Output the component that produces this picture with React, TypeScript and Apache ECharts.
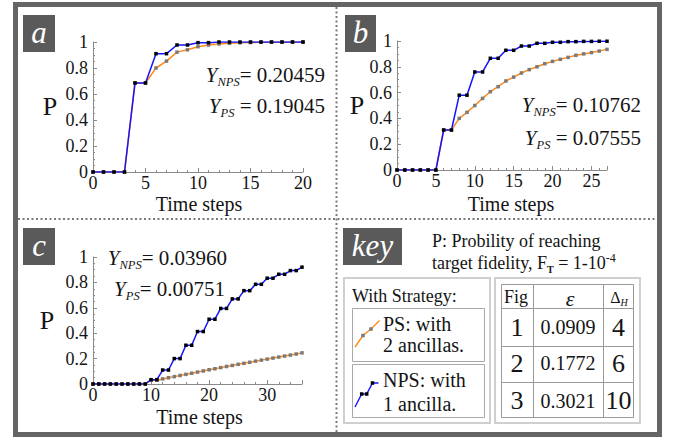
import React, { useEffect, useRef } from "react";
import * as echarts from "echarts";

// ---- data (index = time step) ----
const npsA = [0, 0, 0, 0, 0.685, 0.685, 0.91, 0.91, 0.977, 0.977, 0.995, 0.995, 1, 1, 1, 1, 1, 1, 1, 1, 1];
const psA = [0, 0, 0, 0, 0.685, 0.685, 0.8, 0.853, 0.922, 0.94, 0.964, 0.977, 0.985, 0.99, 0.994, 0.996, 0.998, 0.999, 0.999, 1, 1];

const npsB = [0, 0, 0, 0, 0, 0, 0.31, 0.31, 0.58, 0.58, 0.76, 0.76, 0.866, 0.866, 0.928, 0.928, 0.961, 0.961, 0.982, 0.982, 0.99, 0.99, 0.995, 0.995, 0.997, 0.997, 0.998, 0.998];
const psB = [0, 0, 0, 0, 0, 0, 0.31, 0.31, 0.4, 0.447, 0.5, 0.555, 0.607, 0.646, 0.69, 0.72, 0.752, 0.778, 0.8, 0.824, 0.842, 0.858, 0.873, 0.889, 0.9, 0.91, 0.922, 0.935];

const npsC = [0, 0, 0, 0, 0, 0, 0, 0, 0, 0, 0.034, 0.034, 0.11, 0.11, 0.2, 0.2, 0.305, 0.305, 0.413, 0.413, 0.51, 0.51, 0.595, 0.595, 0.67, 0.67, 0.735, 0.735, 0.785, 0.785, 0.833, 0.833, 0.864, 0.864, 0.893, 0.893, 0.92];
const psC = [0, 0, 0, 0, 0, 0, 0, 0, 0, 0, 0.03, 0.03, 0.04, 0.049, 0.058, 0.067, 0.076, 0.085, 0.094, 0.103, 0.112, 0.12, 0.129, 0.138, 0.146, 0.155, 0.163, 0.171, 0.18, 0.188, 0.196, 0.204, 0.212, 0.22, 0.228, 0.236, 0.245];

const xMax = [20, 27, 36];
const xInterval = [5, 5, 10];
const yTicks = ["0", "0.2", "0.4", "0.6", "0.8", "1"];

const annotA = ["0.20459", "0.19045"];
const annotB = ["0.10762", "0.07555"];
const annotC = ["0.03960", "0.00751"];

const tableFig = ["1", "2", "3"];
const tableEps = ["0.0909", "0.1772", "0.3021"];
const tableDelta = ["4", "6", "10"];

const SERIF = "Liberation Serif, DejaVu Serif, serif";
const ORANGE = "#ff8a1a";
const BLUE = "#1414ff";
const AXIS = "#8a8a8a";
const INK = "#141414";

const toPts = (arr: number[]) => arr.map((v, i) => [i, v]);

export default function App() {
  const ref = useRef<HTMLDivElement>(null);

  useEffect(() => {
    if (!ref.current) return;
    const chart = echarts.init(ref.current, undefined, { renderer: "svg" });

    const grids = [
      { left: 93, top: 42, width: 210, height: 130 },
      { left: 397, top: 41, width: 210, height: 129 },
      { left: 93, top: 257, width: 209, height: 127 },
    ];

    const xAxes = grids.map((_, i) => ({
      type: "value",
      gridIndex: i,
      min: 0,
      max: xMax[i],
      interval: xInterval[i],
      axisLine: { show: true, onZero: false, lineStyle: { color: AXIS, width: 1 } },
      axisTick: { show: true, inside: true, length: 4, lineStyle: { color: AXIS } },
      minorTick: { show: true, splitNumber: 5, length: 2, lineStyle: { color: AXIS } },
      splitLine: { show: false },
      axisLabel: {
        color: INK,
        fontFamily: SERIF,
        fontSize: 18,
        margin: 2,
        formatter: (v: number) => (v % xInterval[i] === 0 ? String(v) : ""),
      },
    }));

    const yAxes = grids.map((_, i) => ({
      type: "value",
      gridIndex: i,
      min: 0,
      max: 1,
      interval: 0.2,
      axisLine: { show: true, onZero: false, lineStyle: { color: AXIS, width: 1 } },
      axisTick: { show: true, inside: true, length: 4, lineStyle: { color: AXIS } },
      minorTick: { show: true, splitNumber: 4, length: 2, lineStyle: { color: AXIS } },
      splitLine: { show: false },
      axisLabel: {
        color: INK,
        fontFamily: SERIF,
        fontSize: 18,
        margin: 5,
        formatter: (v: number) => yTicks[Math.round(v * 5)] ?? "",
      },
    }));

    const sets = [
      [psA, npsA],
      [psB, npsB],
      [psC, npsC],
    ];
    const series: any[] = [];
    sets.forEach(([ps, nps], i) => {
      series.push({
        type: "line",
        xAxisIndex: i,
        yAxisIndex: i,
        data: toPts(ps),
        symbol: "rect",
        symbolSize: 3.5,
        showSymbol: true,
        lineStyle: { color: ORANGE, width: 1.5 },
        itemStyle: { color: "#7a7a7a" },
        z: 2,
        silent: true,
      });
      series.push({
        type: "line",
        xAxisIndex: i,
        yAxisIndex: i,
        data: toPts(nps),
        symbol: "rect",
        symbolSize: 3.5,
        showSymbol: true,
        lineStyle: { color: BLUE, width: 1.5 },
        itemStyle: { color: "#000000" },
        z: 3,
        silent: true,
      });
    });

    const txt = (x: number, y: number, text: string, size: number, opts: any = {}) => ({
      type: "text",
      x,
      y,
      z: 20,
      silent: true,
      style: {
        text,
        fontFamily: SERIF,
        fontSize: size,
        fontStyle: opts.italic ? "italic" : "normal",
        fontWeight: "normal",
        fill: opts.fill || INK,
        textAlign: opts.align || "center",
        textVerticalAlign: "middle",
        rich: opts.rich,
        lineHeight: opts.lineHeight,
      },
    });

    const yRich = {
      y: { fontFamily: SERIF, fontStyle: "italic", fontSize: 21, lineHeight: 26, fill: INK },
      s: { fontFamily: SERIF, fontStyle: "italic", fontSize: 12.5, fill: INK, verticalAlign: "bottom" },
      v: { fontFamily: SERIF, fontSize: 21, lineHeight: 26, fill: INK },
    };
    const annot = (x: number, y: number, sub: string, eq: string, val: string) =>
      txt(x, y, `{y|Y}{s|${sub}}{v|${eq}${val}}`, 21, { align: "right", rich: yRich });

    const labelBox = (x: number, y: number, w: number, h: number, label: string) => [
      { type: "rect", z: 15, silent: true, shape: { x, y, width: w, height: h }, style: { fill: "#5a5a5a" } },
      txt(x + w / 2, y + h / 2 - 1, label, 31, { italic: true, fill: "#ffffff" }),
    ];

    const boxStroke = (x: number, y: number, w: number, h: number, color: string, lw: number) => ({
      type: "rect",
      z: 12,
      silent: true,
      shape: { x, y, width: w, height: h },
      style: { fill: "none", stroke: color, lineWidth: lw },
    });
    const ln = (x1: number, y1: number, x2: number, y2: number, color: string, lw: number, dash?: number[]) => ({
      type: "line",
      z: 12,
      silent: true,
      shape: { x1, y1, x2, y2 },
      style: { stroke: color, lineWidth: lw, lineDash: dash },
    });
    const sq = (cx: number, cy: number, color: string) => ({
      type: "rect",
      z: 14,
      silent: true,
      shape: { x: cx - 1.75, y: cy - 1.75, width: 3.5, height: 3.5 },
      style: { fill: color },
    });

    const colX = [517, 568, 618.5];
    const rowY = [327, 363, 400.5];
    const tableTexts: any[] = [];
    tableFig.forEach((f, r) => {
      tableTexts.push(txt(colX[0], rowY[r], f, 26));
      tableTexts.push(txt(colX[1], rowY[r], tableEps[r], 20));
      tableTexts.push(txt(colX[2], rowY[r], tableDelta[r], 26));
    });

    const graphic: any[] = [
      // outer frame and dividers
      { type: "rect", z: 1, silent: true, shape: { x: 15.5, y: 4.5, width: 644, height: 430 }, style: { fill: "none", stroke: "#656565", lineWidth: 5 } },
      ln(336.5, 7, 336.5, 432, "#7a7a7a", 2, [2, 2.5]),
      ln(18, 219, 657, 219, "#7a7a7a", 2, [2, 2.5]),
      // panel labels
      ...labelBox(23, 15, 32, 37, "a"),
      ...labelBox(345, 15, 31, 37, "b"),
      ...labelBox(23, 228, 32, 37, "c"),
      ...labelBox(343, 228, 59, 37, "key"),
      // axis titles
      txt(50, 106, "P", 26),
      txt(357, 105, "P", 26),
      txt(47, 320, "P", 26),
      txt(199, 204, "Time steps", 20),
      txt(511, 204, "Time steps", 20),
      txt(199.5, 417, "Time steps", 20),
      // annotations
      annot(325, 75, "NPS", "= ", annotA[0]),
      annot(325, 106, "PS", " = ", annotA[1]),
      annot(641, 105, "NPS", "= ", annotB[0]),
      annot(641, 138, "PS", " = ", annotB[1]),
      annot(227, 258, "NPS", "= ", annotC[0]),
      annot(225, 289, "PS", "= ", annotC[1]),
      // key text
      txt(432, 241, "P: Probility of reaching", 18, { align: "left" }),
      txt(432, 263, "target fidelity, F{t|T} = 1-10{p|-4}", 18, {
        align: "left",
        lineHeight: 22,
        rich: {
          t: { fontFamily: SERIF, fontSize: 10, fontWeight: "bold", fill: INK, verticalAlign: "bottom" },
          p: { fontFamily: SERIF, fontSize: 12, fill: INK, verticalAlign: "top" },
        },
      }),
      // legend boxes
      boxStroke(344, 278, 146, 145, "#cfcfcf", 2),
      boxStroke(352.5, 308.5, 132, 53, "#a9a9a9", 1),
      boxStroke(352.5, 364.5, 132, 53, "#a9a9a9", 1),
      txt(352, 296, "With Strategy:", 18, { align: "left" }),
      txt(383, 323.5, "PS: with", 20, { align: "left" }),
      txt(383, 344.5, "2 ancillas.", 20, { align: "left" }),
      txt(383, 380, "NPS: with", 20, { align: "left" }),
      txt(383, 404, "1 ancilla.", 20, { align: "left" }),
      {
        type: "polyline",
        z: 13,
        silent: true,
        shape: { points: [[355, 347], [363, 335.5], [371, 329], [379.5, 320.5]] },
        style: { stroke: ORANGE, lineWidth: 1.4, fill: "none" },
      },
      sq(363, 335.5, "#7a7a7a"),
      sq(371, 329, "#7a7a7a"),
      {
        type: "polyline",
        z: 13,
        silent: true,
        shape: { points: [[355, 407], [361.7, 394], [366.7, 394], [372.5, 383], [378.5, 383]] },
        style: { stroke: BLUE, lineWidth: 1.4, fill: "none" },
      },
      sq(361.7, 394, "#000"),
      sq(366.7, 394, "#000"),
      sq(372.5, 383, "#000"),
      // table
      boxStroke(495, 278, 145, 145, "#cfcfcf", 2),
      boxStroke(501.5, 284.5, 132, 133, "#9a9a9a", 1),
      ln(533.5, 284.5, 533.5, 417.5, "#9a9a9a", 1),
      ln(603.5, 284.5, 603.5, 417.5, "#9a9a9a", 1),
      ln(501.5, 308.5, 633.5, 308.5, "#9a9a9a", 1),
      ln(501.5, 346.5, 633.5, 346.5, "#9a9a9a", 1),
      ln(501.5, 382.5, 633.5, 382.5, "#9a9a9a", 1),
      txt(516, 297, "Fig", 18),
      txt(570, 298, "ε", 22, { italic: true }),
      txt(619, 297, "{d|Δ}{h|H}", 16, {
        rich: {
          d: { fontFamily: SERIF, fontSize: 16, lineHeight: 20, fill: INK },
          h: { fontFamily: SERIF, fontSize: 10, fontStyle: "italic", fill: INK, verticalAlign: "bottom" },
        },
      }),
      ...tableTexts,
    ];

    chart.setOption({
      animation: false,
      backgroundColor: "#ffffff",
      grid: grids.map((g) => ({ ...g, containLabel: false })),
      xAxis: xAxes,
      yAxis: yAxes,
      series,
      graphic,
    });

    return () => chart.dispose();
  }, []);

  return <div ref={ref} style={{ position: "absolute", left: 0, top: 0, width: 675, height: 439 }} />;
}
